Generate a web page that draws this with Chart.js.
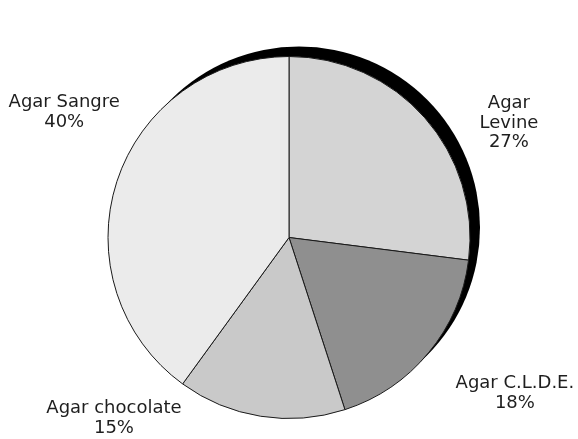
<!DOCTYPE html>
<html>
<head>
<meta charset="utf-8">
<script src="https://cdn.jsdelivr.net/npm/chart.js@4/dist/chart.umd.min.js"></script>
<style>
    html, body { margin: 0; padding: 0; background: #fff; }
    #wrap { width: 578px; height: 439px; position: relative; }
</style>
</head>
<body>
<div id="wrap"><canvas id="pieChart"></canvas></div>
<script>
// datos del grafico
const categories = [['Agar', 'Levine'], ['Agar C.L.D.E.'], ['Agar chocolate'], ['Agar Sangre']];
const values = [27, 18, 15, 40];
const sliceColors = ['#d4d4d4', '#8f8f8f', '#c9c9c9', '#ebebeb'];

// posicion de cada etiqueta, en unidades del radio, respecto al centro
const labelOffsets = [[1.215, -0.631], [1.248, 0.862], [-0.967, 1.0], [-1.242, -0.691]];

const total = values.reduce((a, b) => a + b, 0);

// sombra negra detras del pastel (desplazada arriba a la derecha)
const shadowPlugin = {
    id: 'pieShadow',
    beforeDatasetsDraw(chart) {
        const arc = chart.getDatasetMeta(0).data[0];
        if (!arc) return;
        const ctx = chart.ctx;
        ctx.save();
        ctx.fillStyle = '#000';
        ctx.beginPath();
        ctx.arc(arc.x + 10, arc.y - 10, arc.outerRadius, 0, Math.PI * 2);
        ctx.fill();
        ctx.restore();
    }
};

// etiquetas fuera del pastel
const labelPlugin = {
    id: 'pieLabels',
    afterDatasetsDraw(chart) {
        const arcs = chart.getDatasetMeta(0).data;
        const ctx = chart.ctx;
        ctx.save();
        ctx.font = '18px "DejaVu Sans", sans-serif';
        ctx.fillStyle = '#1e1e1e';
        ctx.textAlign = 'center';
        ctx.textBaseline = 'middle';
        const lineH = 19.5;
        arcs.forEach((arc, i) => {
            const lines = categories[i].concat([Math.round(values[i] / total * 100) + '%']);
            const cx = arc.x + labelOffsets[i][0] * arc.outerRadius;
            const cy = arc.y + labelOffsets[i][1] * arc.outerRadius;
            const y0 = cy - (lines.length - 1) * lineH / 2;
            lines.forEach((t, j) => ctx.fillText(t, cx, y0 + j * lineH));
        });
        ctx.restore();
    }
};

new Chart(document.getElementById('pieChart'), {
    type: 'pie',
    data: {
        labels: categories.map(c => c.join(' ')),
        datasets: [{
            data: values,
            backgroundColor: sliceColors,
            borderColor: '#1a1a1a',
            borderWidth: 1
        }]
    },
    options: {
        responsive: true,
        maintainAspectRatio: false,
        animation: false,
        layout: { padding: { top: 56, bottom: 20, left: 0, right: 0 } },
        plugins: { legend: { display: false }, tooltip: { enabled: false } }
    },
    plugins: [shadowPlugin, labelPlugin]
});
</script>
</body>
</html>
